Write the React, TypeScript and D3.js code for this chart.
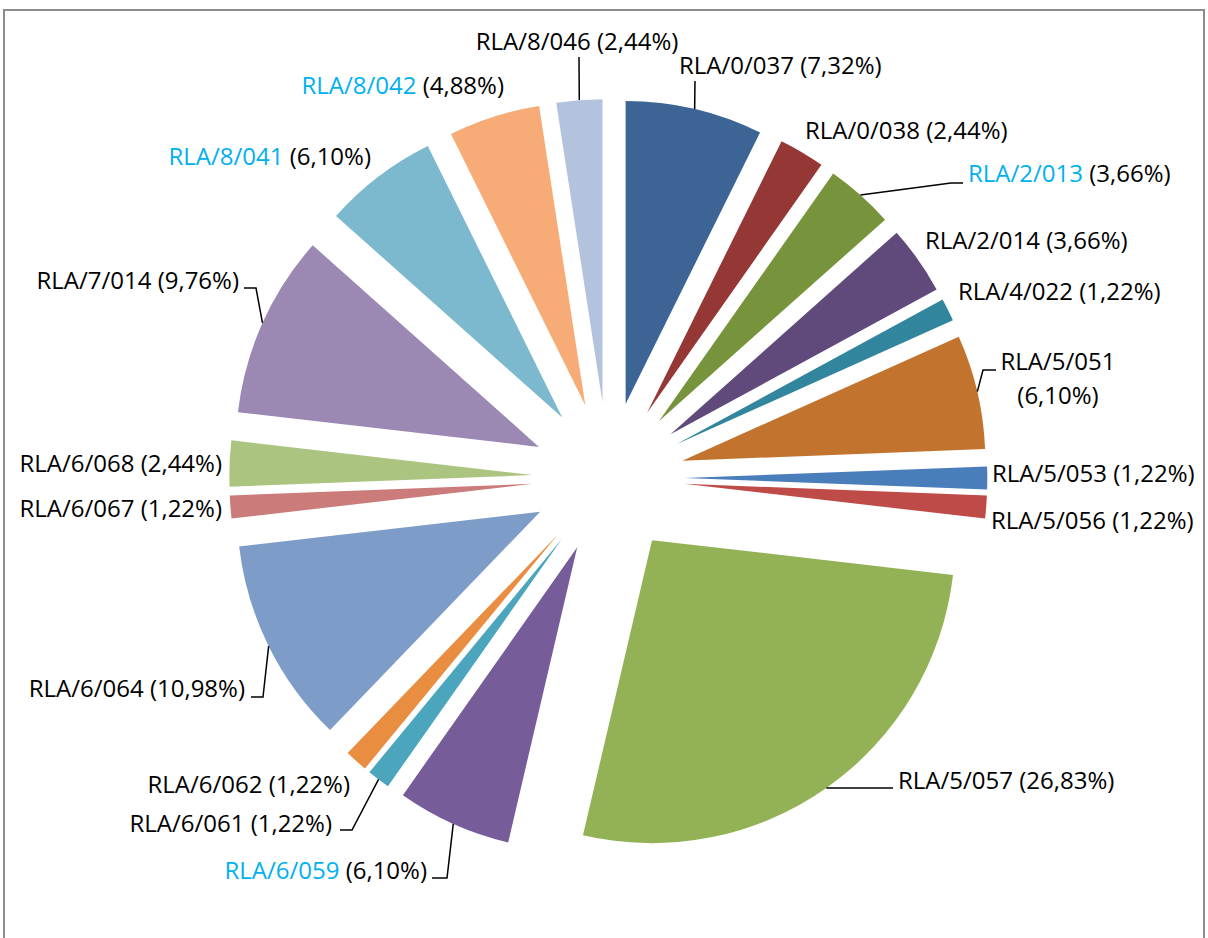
import React from 'react';
import * as d3 from 'd3';

// project codes and how many items each one has (total 82)
const projects = [
  'RLA/0/037', 'RLA/0/038', 'RLA/2/013', 'RLA/2/014', 'RLA/4/022', 'RLA/5/051', 'RLA/5/053',
  'RLA/5/056', 'RLA/5/057', 'RLA/6/059', 'RLA/6/061', 'RLA/6/062', 'RLA/6/064', 'RLA/6/067',
  'RLA/6/068', 'RLA/7/014', 'RLA/8/041', 'RLA/8/042', 'RLA/8/046'
];
const counts = [6, 2, 3, 3, 1, 5, 1, 1, 22, 5, 1, 1, 9, 1, 2, 8, 5, 4, 2];
// names shown in blue in the original labels
const highlighted = ['RLA/2/013', 'RLA/6/059', 'RLA/8/041', 'RLA/8/042'];

const colors = [
  '#3C6595', '#953735', '#77933C', '#604A7B', '#31859C', '#C2742F', '#4A7EBB',
  '#BE4B48', '#93B255', '#775C9A', '#4AA5BD', '#E98D41', '#7E9CC8', '#CB7C7A',
  '#ABC47F', '#9B88B3', '#7CB8CE', '#F7AC78', '#B4C3DD'
];

// label placement (centre y of text), anchor, optional leader end + elbow offset
type Lbl = { x: number; y: number; anchor: 'start' | 'end' | 'middle'; leader?: [number, number, number]; wrap?: boolean };
const labelLayout: Lbl[] = [
  { x: 679, y: 66, anchor: 'start', leader: [695, 81, 0] },
  { x: 805, y: 131, anchor: 'start' },
  { x: 968, y: 174, anchor: 'start', leader: [963, 183, -12] },
  { x: 925, y: 241, anchor: 'start' },
  { x: 958, y: 292, anchor: 'start' },
  { x: 1058, y: 362, anchor: 'middle', leader: [996, 370, -13], wrap: true },
  { x: 992, y: 474, anchor: 'start' },
  { x: 991, y: 521, anchor: 'start' },
  { x: 898, y: 781, anchor: 'start', leader: [893, 788, 0] },
  { x: 427, y: 871, anchor: 'end', leader: [432, 878, 15] },
  { x: 332, y: 824, anchor: 'end', leader: [340, 830, 12] },
  { x: 350, y: 785, anchor: 'end' },
  { x: 245, y: 689, anchor: 'end', leader: [251, 697, 12] },
  { x: 222, y: 509, anchor: 'end' },
  { x: 222, y: 464, anchor: 'end' },
  { x: 239, y: 281, anchor: 'end', leader: [244, 288, 12] },
  { x: 371, y: 157, anchor: 'end' },
  { x: 504, y: 86, anchor: 'end' },
  { x: 577, y: 42, anchor: 'middle', leader: [579, 57, 0] }
];

const App = () => {
  const width = 1208;
  const height = 938;
  const cx = 608.3;
  const cy = 478;
  const radius = 303;
  const explode = 76;

  const total = d3.sum(counts);
  const data = projects.map((name, i) => ({ name, value: counts[i], i }));

  const pie = d3.pie<any>().value(d => d.value).sort(null).startAngle(0).endAngle(2 * Math.PI);
  const arcs = pie(data);
  const arcGen = d3.arc<any>().innerRadius(0).outerRadius(radius);

  const fmt = (v: number) => (v / total * 100).toFixed(2).replace('.', ',') + '%';

  return (
    <svg width={width} height={height} style={{ position: 'absolute', left: 0, top: 0, background: 'white' }}
      fontFamily="'Open Sans', sans-serif" fontSize={24}>
      <rect x={4} y={10} width={1200} height={960} fill='white' stroke='#8c8c8c' strokeWidth={2} />
      <g transform={`translate(${cx}, ${cy})`}>
        {arcs.map((a, i) => {
          const mid = (a.startAngle + a.endAngle) / 2;
          const dx = explode * Math.sin(mid);
          const dy = -explode * Math.cos(mid);
          return (
            <path key={i} d={arcGen(a) as string} transform={`translate(${dx}, ${dy})`} fill={colors[i]} />
          );
        })}
      </g>
      {arcs.map((a, i) => {
        const L = labelLayout[i];
        if (!L.leader) return null;
        const mid = (a.startAngle + a.endAngle) / 2;
        const r = radius + explode;
        const sx = cx + r * Math.sin(mid);
        const sy = cy - r * Math.cos(mid);
        const [ex, ey, elb] = L.leader;
        const pts = [[sx, sy], [ex + elb, ey], [ex, ey]];
        return <path key={'l' + i} d={d3.line()(pts as any) as string} fill='none' stroke='#000' strokeWidth={1.5} />;
      })}
      {arcs.map((a, i) => {
        const L = labelLayout[i];
        const name = projects[i];
        const nameColor = highlighted.includes(name) ? '#00B0F0' : '#000';
        if (L.wrap) {
          return (
            <text key={'t' + i} textAnchor={L.anchor} fill='#000'>
              <tspan x={L.x} y={L.y} dy='0.35em' fill={nameColor}>{name}</tspan>
              <tspan x={L.x} y={L.y + 34} dy='0.35em'>({fmt(counts[i])})</tspan>
            </text>
          );
        }
        return (
          <text key={'t' + i} x={L.x} y={L.y} dy='0.35em' textAnchor={L.anchor} fill='#000'>
            <tspan fill={nameColor}>{name}</tspan>
            <tspan> ({fmt(counts[i])})</tspan>
          </text>
        );
      })}
    </svg>
  );
};

export default App;
